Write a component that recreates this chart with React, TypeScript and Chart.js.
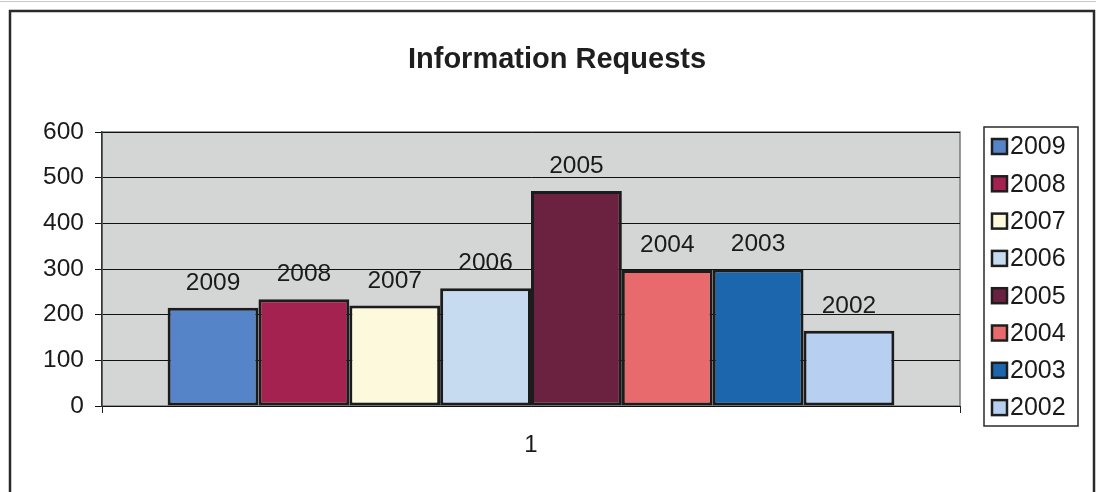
import React, { useEffect, useRef } from "react";
import { Chart, registerables } from "chart.js";

Chart.register(...registerables);

const categories = ["1"];
const seriesNames = ["2009", "2008", "2007", "2006", "2005", "2004", "2003", "2002"];
const seriesValues = [215, 234, 220, 258, 471, 298, 299, 165];
const seriesColors = ["#5585c8", "#a3224f", "#fcf9dc", "#c6dbf0", "#6a2240", "#e86a6c", "#1c66ae", "#b7cff0"];
const yTicks = [0, 100, 200, 300, 400, 500, 600];
const title = "Information Requests";

const FONT = "'Liberation Sans', Arial, sans-serif";

const framePlugin = {
  id: "frame",
  beforeDraw(chart: any) {
    const { ctx, chartArea } = chart;
    ctx.save();
    ctx.fillStyle = "#ffffff";
    ctx.fillRect(0, 0, chart.width, chart.height);
    // faint line at the very top
    ctx.strokeStyle = "#c8c8c8";
    ctx.lineWidth = 1;
    ctx.beginPath();
    ctx.moveTo(0, 1.5);
    ctx.lineTo(1096, 1.5);
    ctx.stroke();
    // outer frame
    ctx.strokeStyle = "#2a2a2a";
    ctx.lineWidth = 2.5;
    ctx.beginPath();
    ctx.moveTo(10, 500);
    ctx.lineTo(10, 11);
    ctx.lineTo(1094, 11);
    ctx.lineTo(1094, 500);
    ctx.stroke();
    // plot area background
    ctx.fillStyle = "#d4d6d5";
    ctx.fillRect(chartArea.left, chartArea.top, chartArea.right - chartArea.left, chartArea.bottom - chartArea.top);
    ctx.strokeStyle = "#7a7a7a";
    ctx.lineWidth = 1.5;
    ctx.strokeRect(chartArea.left, chartArea.top, chartArea.right - chartArea.left, chartArea.bottom - chartArea.top);
    // title
    ctx.fillStyle = "#1e1e1e";
    ctx.font = `bold 29px ${FONT}`;
    ctx.textAlign = "center";
    ctx.textBaseline = "alphabetic";
    ctx.fillText(title, 557, 68);
    ctx.restore();
  },
};

const labelsPlugin = {
  id: "barLabels",
  afterDatasetsDraw(chart: any) {
    const { ctx } = chart;
    ctx.save();
    ctx.fillStyle = "#1a1a1a";
    ctx.font = `24.5px ${FONT}`;
    ctx.textAlign = "center";
    ctx.textBaseline = "alphabetic";
    chart.data.datasets.forEach((ds: any, i: number) => {
      const meta = chart.getDatasetMeta(i);
      meta.data.forEach((bar: any) => {
        ctx.fillText(ds.label, bar.x, bar.y - 18);
      });
    });
    ctx.restore();
  },
};

const legendPlugin = {
  id: "boxLegend",
  afterDraw(chart: any) {
    const { ctx } = chart;
    const left = 984;
    const top = 127;
    const right = 1078;
    const bottom = 426;
    ctx.save();
    ctx.fillStyle = "#ffffff";
    ctx.fillRect(left, top, right - left, bottom - top);
    ctx.strokeStyle = "#2a2a2a";
    ctx.lineWidth = 1.5;
    ctx.strokeRect(left, top, right - left, bottom - top);
    ctx.font = `25px ${FONT}`;
    ctx.textAlign = "left";
    ctx.textBaseline = "middle";
    chart.data.datasets.forEach((ds: any, i: number) => {
      const cy = 146.5 + i * 37.3;
      ctx.fillStyle = ds.backgroundColor;
      ctx.fillRect(992, cy - 7.5, 15, 15);
      ctx.strokeStyle = "#1e1e1e";
      ctx.lineWidth = 2.5;
      ctx.strokeRect(992, cy - 7.5, 15, 15);
      ctx.fillStyle = "#1a1a1a";
      ctx.fillText(ds.label, 1010, cy + 1);
    });
    ctx.restore();
  },
};

export default function App() {
  const ref = useRef<HTMLCanvasElement | null>(null);

  useEffect(() => {
    if (!ref.current) return;
    const chart = new Chart(ref.current, {
      type: "bar",
      data: {
        labels: categories,
        datasets: seriesNames.map((name, i) => ({
          label: name,
          data: [seriesValues[i]],
          backgroundColor: seriesColors[i],
          borderColor: "#1c1c1c",
          borderWidth: 3,
          borderSkipped: false,
          categoryPercentage: 0.847,
          barPercentage: 1,
        })),
      },
      options: {
        animation: false,
        responsive: false,
        maintainAspectRatio: false,
        layout: { padding: { left: 0, top: 132, right: 140, bottom: 0 } },
        plugins: {
          legend: { display: false },
          title: { display: false },
          tooltip: { enabled: false },
        },
        scales: {
          x: {
            offset: true,
            grid: {
              display: true,
              offset: true,
              drawOnChartArea: false,
              drawTicks: true,
              tickLength: 7,
              color: "#222222",
            },
            border: { display: false },
            ticks: {
              font: { family: FONT, size: 24 },
              color: "#1a1a1a",
              padding: 18,
            },
            afterFit(scale: any) {
              scale.height = 86;
            },
          },
          y: {
            min: 0,
            max: 600,
            afterBuildTicks(scale: any) {
              scale.ticks = yTicks.map((v) => ({ value: v }));
            },
            grid: {
              color: "#111111",
              lineWidth: 1,
              tickLength: 7,
              drawTicks: true,
            },
            border: { display: true, color: "#333333", width: 1.5 },
            ticks: {
              font: { family: FONT, size: 24.5 },
              color: "#1a1a1a",
              padding: 11,
            },
            afterFit(scale: any) {
              scale.width = 102;
            },
          },
        },
      },
      plugins: [framePlugin, labelsPlugin, legendPlugin],
    });
    return () => chart.destroy();
  }, []);

  return (
    <div style={{ position: "absolute", left: 0, top: 0, width: 1100, height: 492 }}>
      <canvas ref={ref} width={1100} height={492} style={{ display: "block", width: 1100, height: 492 }} />
    </div>
  );
}
